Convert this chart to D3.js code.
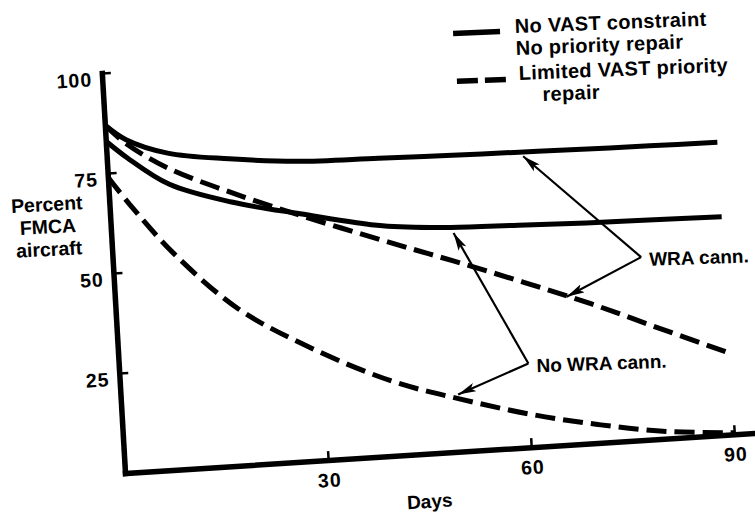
<!DOCTYPE html>
<html>
<head>
<meta charset="utf-8">
<script src="https://cdn.jsdelivr.net/npm/d3@7"></script>
<style>
  body { margin: 0; background: #fff; }
  text { font-family: "Liberation Sans", Arial, sans-serif; font-weight: bold; fill: #000; }
</style>
</head>
<body>
<div id="chart"></div>
<script>
var width = 755,
    height = 513;

// values (days, percent FMCA aircraft)
var days = [0, 3, 9, 18, 28, 40, 50, 60, 70, 80, 90];
var noVastWra     = [87, 83, 79, 76.6, 74.9, 74.4, 74, 73.7, 73.4, 73.2, 73];
var noVastNoWra   = [83, 78.5, 71.2, 65.8, 61.8, 57.5, 56, 55.5, 55, 54.7, 54.4];
var limitedWra    = [87, 82, 75.2, 68.2, 61.4, 53.8, 47.7, 41.4, 34.8, 27.5, 20.3];
var limitedNoWra  = [74, 66.8, 54, 39.2, 28.6, 18.7, 13.1, 8.3, 4.6, 1.8, 0.4];

var xTicks = [30, 60, 90];
var yTicks = [25, 50, 75, 100];
var yTitle = ["Percent", "FMCA", "aircraft"];
var xTitle = "Days";
var legendSolid = ["No VAST constraint", "No priority repair"];
var legendDashed = ["Limited VAST priority", "repair"];

// callouts: vertex and arrow tips in (day, percent)
var callouts = [
  { label: "WRA cann.",    vertex: [77.8, 45.6], tips: [[61.3, 72.6], [66.5, 36.9]] },
  { label: "No WRA cann.", vertex: [60.3, 20.9], tips: [[50.4, 54.6], [49.7, 14.3]] }
];

var series = [
  { values: noVastWra, dash: null },
  { values: noVastNoWra, dash: null },
  { values: limitedWra, dash: "20,8" },
  { values: limitedNoWra, dash: "20,8" }
];

var svg = d3.select("#chart").append("svg")
  .attr("width", width)
  .attr("height", height);

var x = d3.scaleLinear().domain([0, 93.5]).range([0, 633]);
var y = d3.scaleLinear().domain([0, 100]).range([400, 0]);

// the scanned page sits a little askew
var M = { a: 1, b: -0.0635, c: 0.058, d: 1, e: 101.8, f: 73 };
function toScreen(day, pct) {
  var lx = x(day), ly = y(pct);
  return [M.a * lx + M.c * ly + M.e, M.b * lx + M.d * ly + M.f];
}

var g = svg.append("g")
  .attr("transform", "matrix(" + [M.a, M.b, M.c, M.d, M.e, M.f].join(",") + ")");

// axes
var yAxis = d3.axisLeft(y).tickValues(yTicks).tickSizeInner(-9).tickSizeOuter(0).tickPadding(10);
var xAxis = d3.axisBottom(x).tickValues(xTicks).tickSizeInner(-9).tickSizeOuter(0).tickPadding(13);

var gy = g.append("g").call(yAxis);
var gx = g.append("g").attr("transform", "translate(0," + y(0) + ")").call(xAxis);

[gy, gx].forEach(function(ax) {
  ax.attr("font-family", null).attr("font-size", null);
  ax.select(".domain").attr("stroke", "#000").attr("stroke-width", 5.5).attr("stroke-linecap", "square");
  ax.selectAll(".tick line").attr("stroke", "#000").attr("stroke-width", 2.5);
  ax.selectAll(".tick text").style("font-size", "19.5px").style("letter-spacing", "1px");
});
gy.selectAll(".tick text").attr("dy", "0.62em");

// curves
var line = d3.line()
  .x(function(d, i) { return x(days[i]); })
  .y(function(d) { return y(d); })
  .curve(d3.curveCatmullRom.alpha(0.5));

g.selectAll(".series")
  .data(series)
  .enter()
  .append("path")
  .attr("class", "series")
  .attr("d", function(s) { return line(s.values); })
  .attr("fill", "none")
  .attr("stroke", "#000")
  .attr("stroke-width", 5)
  .attr("stroke-dasharray", function(s) { return s.dash; });

g.append("text")
  .attr("x", x(44.6))
  .attr("y", y(0) + 54)
  .attr("text-anchor", "middle")
  .style("font-size", "19px")
  .text(xTitle);

// y title
svg.append("g")
  .attr("transform", "rotate(-3,48,228)")
  .selectAll("text")
  .data(yTitle)
  .enter()
  .append("text")
  .attr("x", 48)
  .attr("y", function(d, i) { return 211 + i * 22.5; })
  .attr("text-anchor", "middle")
  .style("font-size", "19.5px")
  .text(function(d) { return d; });

// callout arrows
var defs = svg.append("defs");
defs.append("marker")
  .attr("id", "head")
  .attr("viewBox", "0 0 18 9")
  .attr("refX", 18)
  .attr("refY", 4.5)
  .attr("markerWidth", 18)
  .attr("markerHeight", 9)
  .attr("markerUnits", "userSpaceOnUse")
  .attr("orient", "auto")
  .append("path")
  .attr("d", "M0,0L18,4.5L0,9L4,4.5Z")
  .attr("fill", "#000");

callouts.forEach(function(c) {
  var v = toScreen(c.vertex[0], c.vertex[1]);
  c.tips.forEach(function(t) {
    var p = toScreen(t[0], t[1]);
    svg.append("line")
      .attr("x1", v[0]).attr("y1", v[1])
      .attr("x2", p[0]).attr("y2", p[1])
      .attr("stroke", "#000")
      .attr("stroke-width", 2.2)
      .attr("marker-end", "url(#head)");
  });
  svg.append("text")
    .attr("x", v[0] + 8)
    .attr("y", v[1] + 9)
    .attr("transform", "rotate(-2," + v[0] + "," + v[1] + ")")
    .style("font-size", "19px")
    .text(c.label);
});

// legend
var lg = svg.append("g").attr("transform", "rotate(-2.2,515,30)");
lg.append("line")
  .attr("x1", 453).attr("y1", 31).attr("x2", 500).attr("y2", 31)
  .attr("stroke", "#000").attr("stroke-width", 5.5);
lg.append("line")
  .attr("x1", 455).attr("y1", 79).attr("x2", 506).attr("y2", 79)
  .attr("stroke", "#000").attr("stroke-width", 5.5)
  .attr("stroke-dasharray", "21,7");

lg.selectAll(".lsolid")
  .data(legendSolid)
  .enter()
  .append("text")
  .attr("class", "lsolid")
  .attr("x", 515)
  .attr("y", function(d, i) { return 33 + i * 22; })
  .style("font-size", "20px")
  .style("letter-spacing", "0.3px")
  .text(function(d) { return d; });

lg.selectAll(".ldash")
  .data(legendDashed)
  .enter()
  .append("text")
  .attr("class", "ldash")
  .attr("x", function(d, i) { return i ? 540 : 517; })
  .attr("y", function(d, i) { return 80 + i * 22; })
  .style("font-size", "20px")
  .style("letter-spacing", "0.3px")
  .text(function(d) { return d; });
</script>
</body>
</html>
